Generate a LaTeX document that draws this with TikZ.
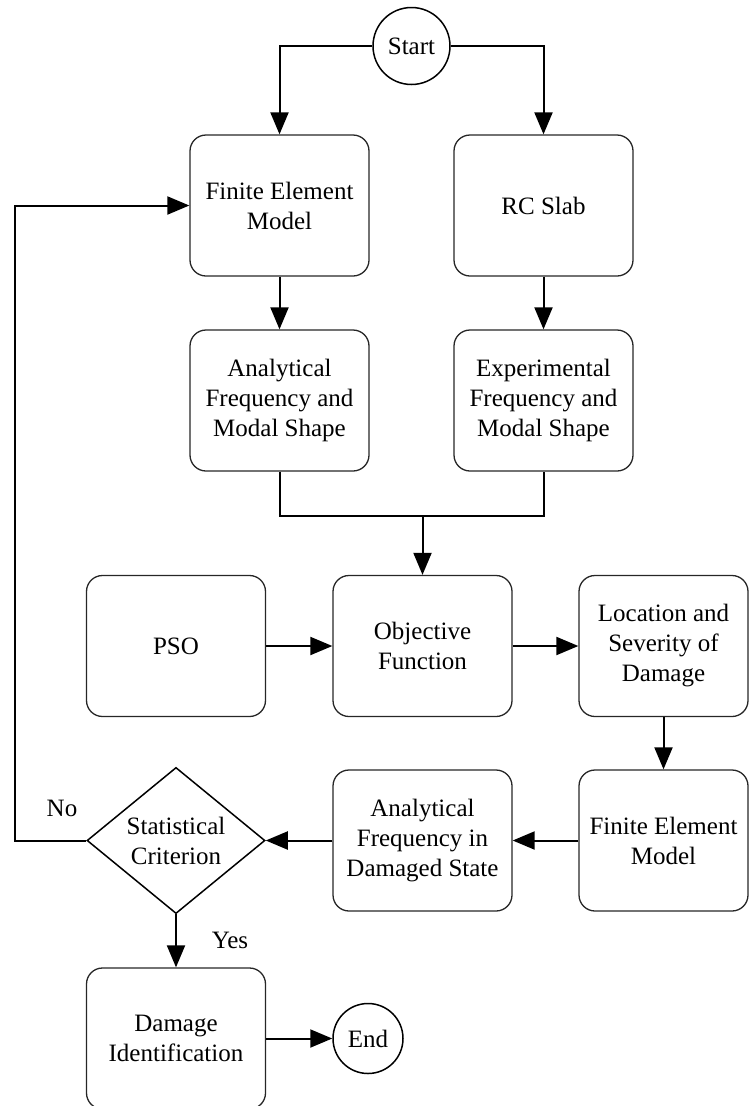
\documentclass[tikz,border=0pt]{standalone}
\usepackage{fontspec}
\setmainfont{Liberation Serif}
\usetikzlibrary{shapes.geometric,arrows.meta}
\begin{document}
\begin{tikzpicture}[x=1pt,y=-1pt,
  every node/.style={font=\fontsize{25}{30}\selectfont, text=black},
  procbox/.style={draw=black!85, line width=1.3pt, rounded corners=16pt,
    minimum width=179pt, minimum height=141pt, align=center, inner sep=2pt},
  termcirc/.style={draw=black, line width=1.5pt, circle, inner sep=0pt},
  decide/.style={draw=black, line width=1.5pt, diamond, minimum width=178pt,
    minimum height=141pt, inner sep=0pt, align=center},
  conn/.style={draw=black, line width=2pt, -{Triangle[length=22pt,width=18pt]}},
  plainconn/.style={draw=black, line width=2pt},
  lbl/.style={inner sep=0pt}
]
\useasboundingbox (0,0) rectangle (749,1106);

\node[termcirc, minimum size=77pt] (start) at (411.5,46) {Start};
\node[procbox] (fe1) at (279.5,205.5) {Finite Element\\Model};
\node[procbox] (rc) at (543.5,205.5) {RC Slab};
\node[procbox] (an1) at (279.5,400.5) {Analytical\\Frequency and\\Modal Shape};
\node[procbox] (ex) at (543.5,400.5) {Experimental\\Frequency and\\Modal Shape};
\node[procbox] (pso) at (176,646) {PSO};
\node[procbox] (obj) at (422.5,646) {Objective\\Function};
\node[procbox, minimum width=169pt] (loc) at (663.5,646) {Location and\\Severity of\\Damage};
\node[procbox, minimum width=169pt] (fe2) at (663.5,840.5) {Finite Element\\Model};
\node[procbox] (an2) at (422.5,840.5) {Analytical\\Frequency in\\Damaged State};
\node[decide] (crit) at (176,840.5) {Statistical\\Criterion};
\node[procbox] (did) at (176,1038.5) {Damage\\Identification};
\node[termcirc, minimum size=70pt] (end) at (368,1038.5) {End};

\node[lbl] (no) at (62,808) {No};
\node[lbl] (yes) at (230,940) {Yes};

\coordinate (merge) at (422.5,516);
\coordinate (loopx) at (15,840.5);

\draw[conn] (start.west) -| (fe1.north);
\draw[conn] (start.east) -| (rc.north);
\draw[conn] (fe1.south) -- (an1.north);
\draw[conn] (rc.south) -- (ex.north);
\draw[plainconn] (an1.south) -- (an1.south |- merge) -- (ex.south |- merge) -- (ex.south);
\draw[conn] (merge) -- (obj.north);
\draw[conn] (pso.east) -- (obj.west);
\draw[conn] (obj.east) -- (loc.west);
\draw[conn] (loc.south) -- (fe2.north);
\draw[conn] (fe2.west) -- (an2.east);
\draw[conn] (an2.west) -- (crit.east);
\draw[conn] (crit.west) -- (loopx) |- (fe1.west);
\draw[conn] (crit.south) -- (did.north);
\draw[conn] (did.east) -- (end.west);
\end{tikzpicture}
\end{document}
